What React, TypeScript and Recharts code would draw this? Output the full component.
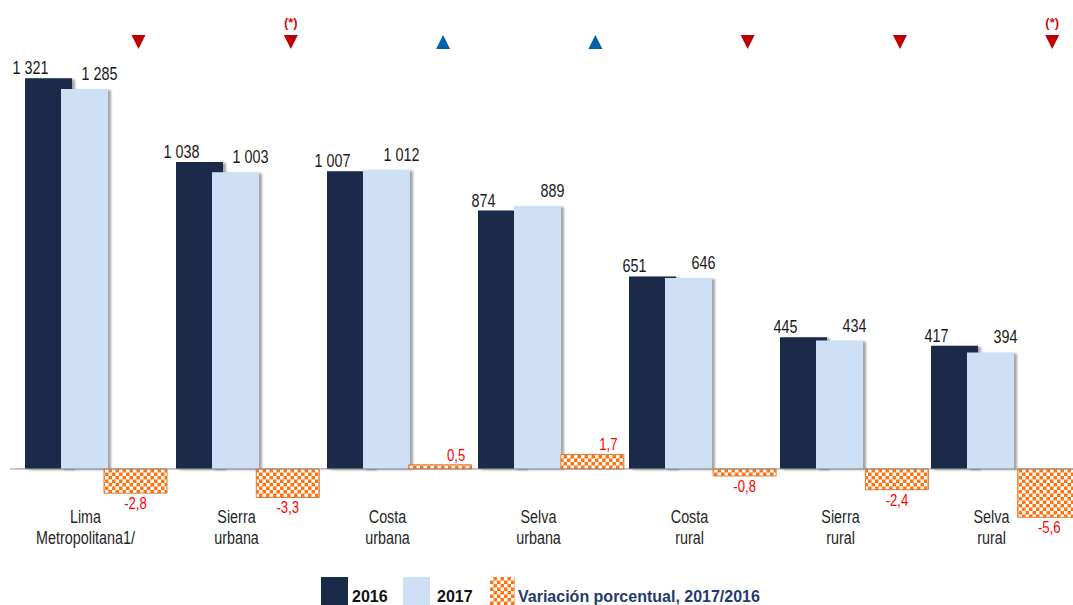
import React from "react";
import { Bar, ComposedChart, LabelList, Legend, ReferenceLine, XAxis, YAxis } from "recharts";

const regions = [
  "Lima Metropolitana1/",
  "Sierra urbana",
  "Costa urbana",
  "Selva urbana",
  "Costa rural",
  "Sierra rural",
  "Selva rural",
];
const values2016 = [1321, 1038, 1007, 874, 651, 445, 417];
const values2017 = [1285, 1003, 1012, 889, 646, 434, 394];
const changePct = [-2.8, -3.3, 0.5, 1.7, -0.8, -2.4, -5.6];
const trend = ["down", "down", "up", "up", "down", "down", "down"];
const significant = [false, true, false, false, false, false, true];

const data = regions.map((region, i) => ({
  region,
  y2016: values2016[i],
  y2017: values2017[i],
  pct: changePct[i],
  trend: trend[i],
  sig: significant[i],
}));

const SANS = "'Liberation Sans', Arial, sans-serif";
const DARK = "#1a2b48";
const LIGHT = "#cde0f6";
const ORANGE = "#ff7410";

const fmtThousands = (n: number) =>
  n >= 1000 ? `${Math.floor(n / 1000)} ${String(n % 1000).padStart(3, "0")}` : String(n);

const fmtPct = (n: number) => n.toFixed(1).replace(".", ",");

// no Arial Narrow here, so squeeze Liberation Sans horizontally
function NarrowText({ x, y, size, fill, children }: any) {
  return (
    <text
      transform={`translate(${x},${y}) scale(0.82,1)`}
      textAnchor="middle"
      fontFamily={SANS}
      fontSize={size}
      fill={fill}
    >
      {children}
    </text>
  );
}

function DarkLabel(props: any) {
  const { x, y, width, value } = props;
  return (
    <NarrowText x={x + width / 2 - 18} y={y - 4} size={17.5} fill="#1a1a1a">
      {fmtThousands(value)}
    </NarrowText>
  );
}

function LightLabel(props: any) {
  const { x, y, width, value } = props;
  return (
    <NarrowText x={x + width / 2 + 15} y={y - 9} size={17.5} fill="#1a1a1a">
      {fmtThousands(value)}
    </NarrowText>
  );
}

function PctLabel(props: any) {
  const { x, y, width, height, value } = props;
  const top = Math.min(y, y + height);
  const bottom = Math.max(y, y + height);
  const cx = x + width / 2;
  if (value >= 0) {
    return (
      <NarrowText x={cx + 16} y={top - 4} size={16} fill="#ff0000">
        {fmtPct(value)}
      </NarrowText>
    );
  }
  return (
    <NarrowText x={cx} y={bottom + 16} size={16} fill="#ff0000">
      {fmtPct(value)}
    </NarrowText>
  );
}

function TrendMark(props: any) {
  const { x, width, index } = props;
  const cx = x + width / 2 + 3;
  const row = data[index];
  const up = row.trend === "up";
  const pts = up
    ? `${cx - 7},49 ${cx + 7},49 ${cx},35`
    : `${cx - 7},35 ${cx + 7},35 ${cx},49`;
  return (
    <g>
      <polygon points={pts} fill={up ? "#0061a8" : "#c00000"} />
      {row.sig && (
        <text x={cx} y={27} textAnchor="middle" fontFamily={SANS} fontWeight="bold" fontSize={13} fill="#d01010">
          (*)
        </text>
      )}
    </g>
  );
}

function CategoryTick(props: any) {
  const { x, y, payload } = props;
  const [first, ...rest] = String(payload.value).split(" ");
  return (
    <g>
      <NarrowText x={x} y={y - 8} size={17.5} fill="#262626">
        {first}
      </NarrowText>
      <NarrowText x={x} y={y + 13} size={17.5} fill="#262626">
        {rest.join(" ")}
      </NarrowText>
    </g>
  );
}

function CheckerPattern({ id }: { id: string }) {
  return (
    <pattern id={id} width="7" height="7" patternUnits="userSpaceOnUse">
      <rect width="7" height="7" fill={ORANGE} />
      <rect width="3.5" height="3.5" fill="#fff" />
      <rect x="3.5" y="3.5" width="3.5" height="3.5" fill="#fff" />
    </pattern>
  );
}

function Swatch({ fill, w }: { fill: string; w: number }) {
  return (
    <svg width={w} height={28} style={{ display: "block" }}>
      <rect width={w} height={28} fill={fill} />
    </svg>
  );
}

function LegendBox() {
  const txt = {
    position: "absolute" as const,
    top: 12,
    fontFamily: SANS,
    fontWeight: 700,
    fontSize: 16,
    lineHeight: "16px",
    whiteSpace: "nowrap" as const,
  };
  return (
    <div style={{ position: "relative", height: 28, width: 1073 }}>
      <div style={{ position: "absolute", left: 321, top: 0 }}>
        <Swatch fill={DARK} w={27} />
      </div>
      <span style={{ ...txt, left: 352, color: "#111" }}>2016</span>
      <div style={{ position: "absolute", left: 403, top: 0 }}>
        <Swatch fill={LIGHT} w={27} />
      </div>
      <span style={{ ...txt, left: 437, color: "#111" }}>2017</span>
      <div style={{ position: "absolute", left: 490, top: 0 }}>
        <svg width={25} height={28} style={{ display: "block" }}>
          <defs>
            <CheckerPattern id="checkerLegend" />
          </defs>
          <rect width={25} height={28} fill="url(#checkerLegend)" />
        </svg>
      </div>
      <span style={{ ...txt, left: 518, color: "#1f3a6e" }}>Variación porcentual, 2017/2016</span>
    </div>
  );
}

export default function App() {
  return (
    <div style={{ width: 1073, height: 605, overflow: "hidden", background: "#fff" }}>
      <style>{"body{margin:0}"}</style>
      <ComposedChart
        width={1073}
        height={605}
        data={data}
        margin={{ top: 21, right: 0, bottom: 0, left: 10 }}
        barGap={-11}
      >
        <defs>
          <CheckerPattern id="checker" />
          <filter id="barShadow" x="-10%" y="-10%" width="130%" height="120%">
            <feDropShadow dx="3" dy="1" stdDeviation="1.2" floodColor="#000" floodOpacity="0.35" />
          </filter>
        </defs>
        <XAxis
          xAxisId="cat"
          dataKey="region"
          height={46}
          tickSize={0}
          tickMargin={0}
          axisLine={false}
          tickLine={false}
          interval={0}
          padding={{ left: 0, right: 6 }}
          tick={<CategoryTick />}
        />
        <XAxis xAxisId="yr" dataKey="region" hide padding={{ left: -19, right: 25 }} />
        <XAxis xAxisId="pct" dataKey="region" hide padding={{ left: 49, right: -52 }} />
        <YAxis yAxisId="abs" hide domain={[-210, 1515]} />
        <YAxis yAxisId="pct" hide orientation="right" domain={[-7.2, 52.1]} />
        <ReferenceLine xAxisId="cat" yAxisId="abs" y={0} stroke="#8c8c8c" strokeWidth={1} />
        <Bar
          xAxisId="yr"
          yAxisId="abs"
          dataKey="y2016"
          barSize={47}
          fill={DARK}
          filter="url(#barShadow)"
          isAnimationActive={false}
        >
          <LabelList dataKey="y2016" content={<DarkLabel />} />
        </Bar>
        <Bar
          xAxisId="yr"
          yAxisId="abs"
          dataKey="y2017"
          barSize={47}
          fill={LIGHT}
          filter="url(#barShadow)"
          isAnimationActive={false}
        >
          <LabelList dataKey="y2017" content={<LightLabel />} />
        </Bar>
        <Bar
          xAxisId="pct"
          yAxisId="pct"
          dataKey="pct"
          barSize={63}
          fill="url(#checker)"
          stroke="#e07b39"
          strokeWidth={1}
          isAnimationActive={false}
        >
          <LabelList dataKey="pct" content={<PctLabel />} />
          <LabelList dataKey="pct" content={<TrendMark />} />
        </Bar>
        <Legend verticalAlign="bottom" wrapperStyle={{ left: 0, width: 1073 }} content={() => <LegendBox />} />
      </ComposedChart>
    </div>
  );
}
